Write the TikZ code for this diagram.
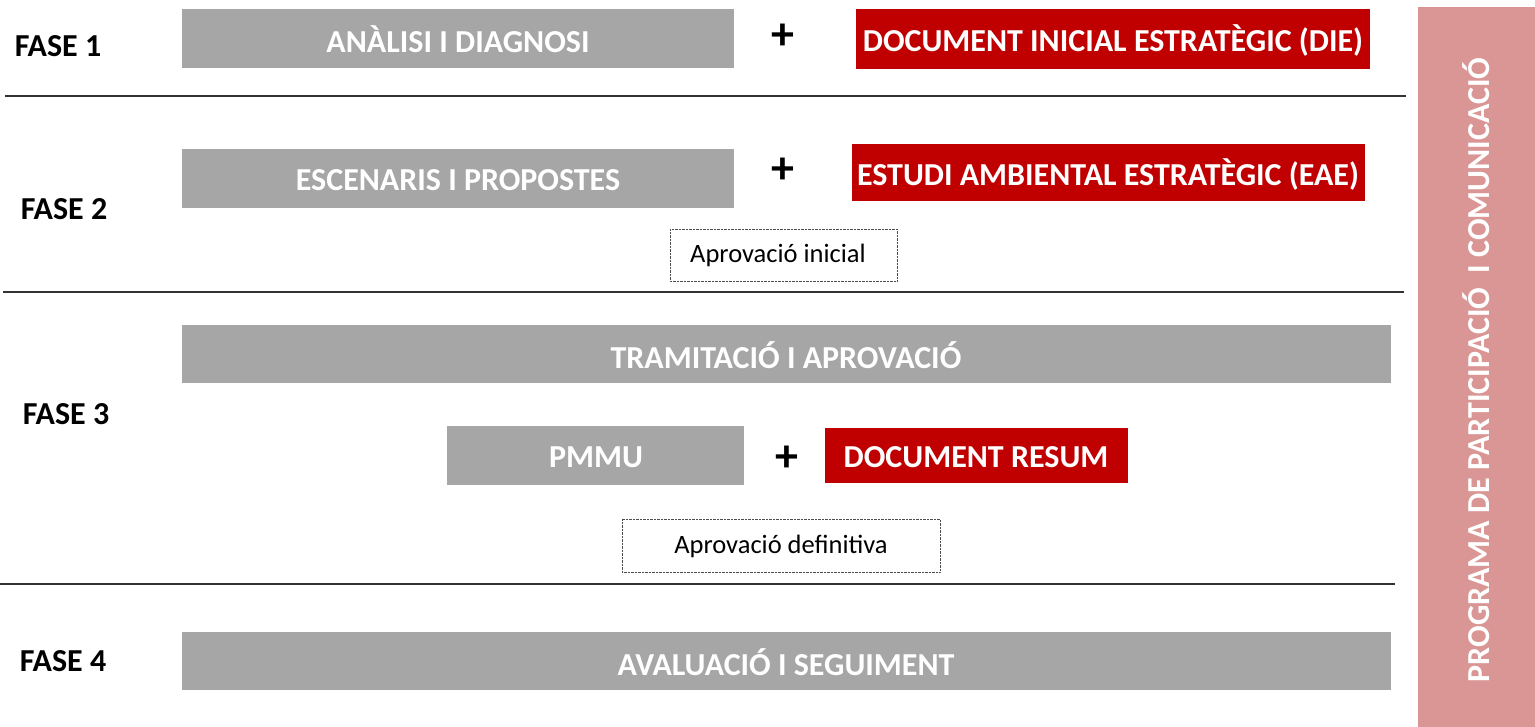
\documentclass[tikz,border=0pt]{standalone}
\usepackage{fontspec}
\setmainfont{Carlito}
\definecolor{boxgray}{HTML}{A6A6A6}
\definecolor{boxred}{HTML}{C00000}
\definecolor{sidepink}{HTML}{D99694}
\begin{document}
\begin{tikzpicture}[x=1pt,y=-1pt,
  bigtext/.style={font=\bfseries\fontsize{32}{38}\selectfont},
  boxlabel/.style={bigtext,text=white},
  grayfill/.style={fill=boxgray,draw=none},
  redfill/.style={fill=boxred,draw=none},
  phase/.style={bigtext,text=black},
  plus/.style={font=\bfseries\fontsize{46}{50}\selectfont,text=black},
  approval/.style={draw=black!70,densely dotted,fill=white},
  apptext/.style={font=\fontsize{26.5}{30}\selectfont},
  sep/.style={draw=black!80,line width=1.2pt}]
\useasboundingbox (0,0) rectangle (1535,727);
% side panel
\fill[sidepink] (1418,7) rectangle (1535,727);
\node[rotate=90,boxlabel] (side) at (1476,370) {PROGRAMA DE PARTICIPACIÓ \ I COMUNICACIÓ};
% separators
\coordinate (l1a) at (5,96); \coordinate (l1b) at (1406,96);
\coordinate (l2a) at (3,292); \coordinate (l2b) at (1404,292);
\coordinate (l3a) at (0,584); \coordinate (l3b) at (1395,584);
\draw[sep] (l1a) -- (l1b);
\draw[sep] (l2a) -- (l2b);
\draw[sep] (l3a) -- (l3b);
% phase labels
\node[phase] (f1) at (58,46) {FASE 1};
\node[phase] (f2) at (64,209) {FASE 2};
\node[phase] (f3) at (66,414) {FASE 3};
\node[phase] (f4) at (63,661) {FASE 4};
% phase 1
\path[grayfill] (182,9) rectangle (734,68);
\node[boxlabel] (anal) at (458,39) {ANÀLISI I DIAGNOSI};
\node[plus] (p1) at (783,37) {+};
\path[redfill] (856,9) rectangle (1370,69);
\node[boxlabel] (die) at (1113,40) {DOCUMENT INICIAL ESTRATÈGIC (DIE)};
% phase 2
\path[grayfill] (182,149) rectangle (734,208);
\node[boxlabel] (esc) at (458,180) {ESCENARIS I PROPOSTES};
\node[plus] (p2) at (783,171) {+};
\path[redfill] (852,144) rectangle (1365,201);
\node[boxlabel] (eae) at (1108,174) {ESTUDI AMBIENTAL ESTRATÈGIC (EAE)};
\draw[approval] (670,229) rectangle (897,281);
\node[apptext] (ai) at (778,255) {Aprovació inicial};
% phase 3
\path[grayfill] (182,325) rectangle (1391,383);
\node[boxlabel] (tram) at (786,355) {TRAMITACIÓ I APROVACIÓ};
\path[grayfill] (447,426) rectangle (744,485);
\node[boxlabel] (pmmu) at (596,457) {PMMU};
\node[plus] (p3) at (787,459) {+};
\path[redfill] (825,428) rectangle (1128,483);
\node[boxlabel] (res) at (976,457) {DOCUMENT RESUM};
\draw[approval] (622,519) rectangle (940,572);
\node[apptext] (ad) at (781,546) {Aprovació definitiva};
% phase 4
\path[grayfill] (182,632) rectangle (1391,690);
\node[boxlabel] (aval) at (786,662) {AVALUACIÓ I SEGUIMENT};
\end{tikzpicture}
\end{document}
